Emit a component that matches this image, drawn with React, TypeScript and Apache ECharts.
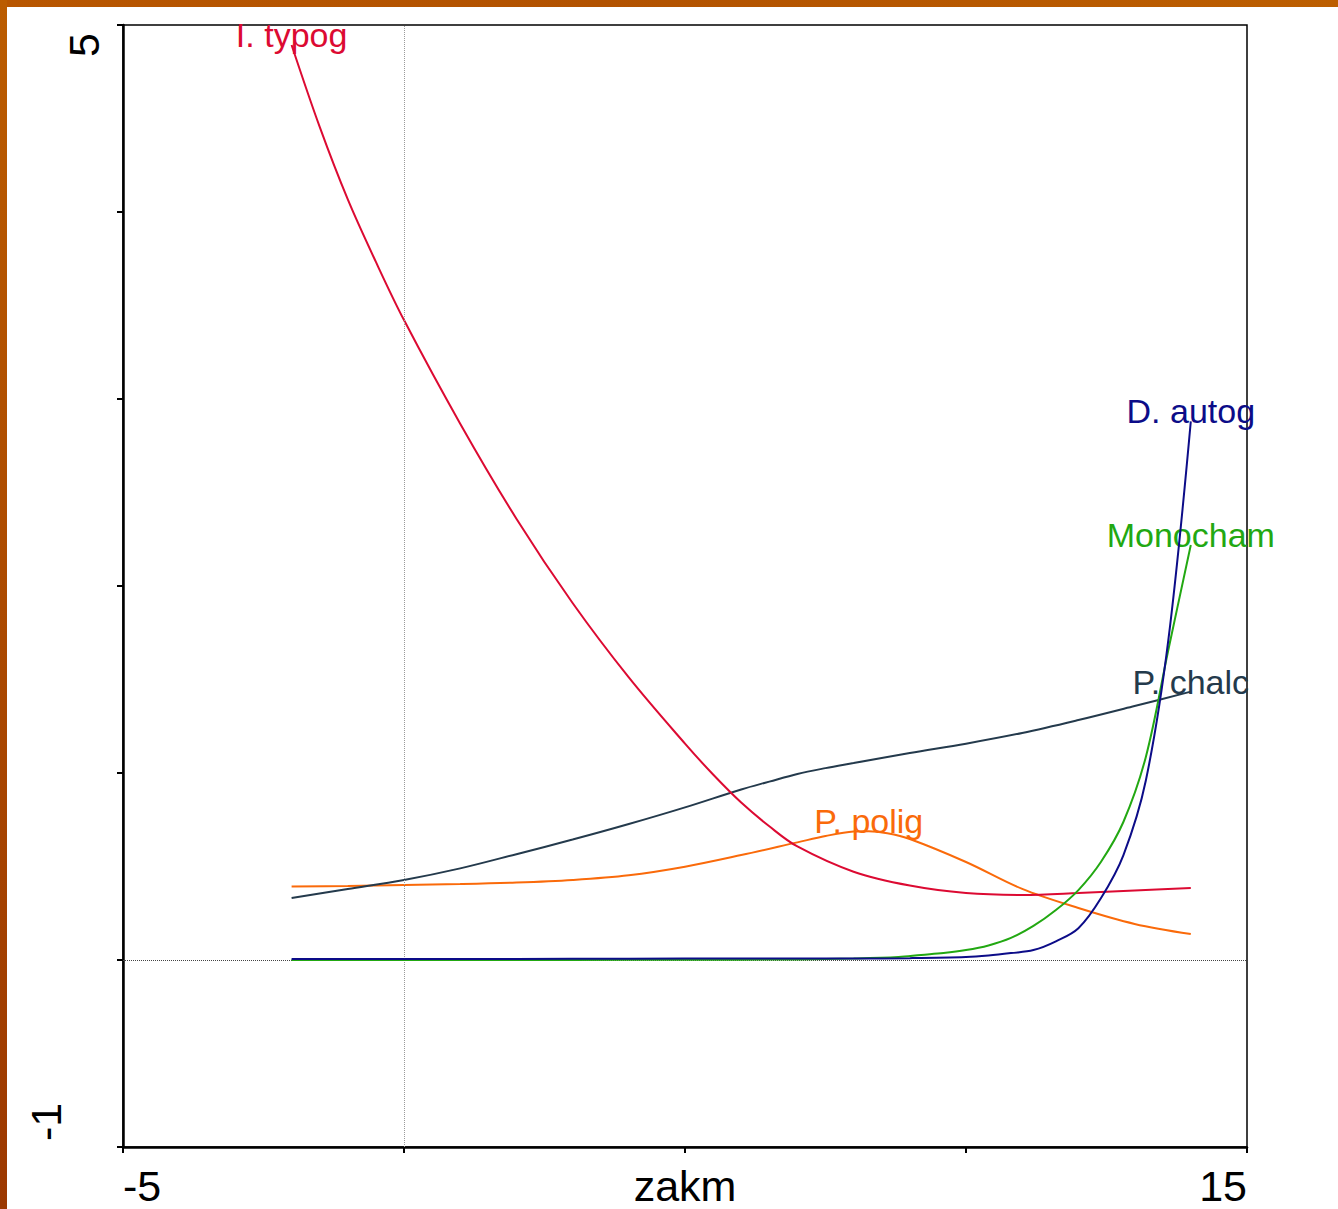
import React, { useEffect, useRef } from 'react';
import * as echarts from 'echarts';

const FONT = '"Liberation Sans", Arial, Helvetica, sans-serif';

// Response curves along the zakm gradient, one x/y pair of arrays per species
const typogX = [-2, -1.5, -1, -0.5, 0, 1, 2, 3, 4, 5, 5.5, 6, 6.5, 7, 8, 9, 10, 11, 12, 13, 14];
const typogY = [4.893, 4.455, 4.067, 3.733, 3.422, 2.868, 2.36, 1.909, 1.511, 1.157, 0.992, 0.842, 0.715, 0.607, 0.472, 0.398, 0.358, 0.348, 0.358, 0.372, 0.385];

const chalcX = [-2, -1, 0, 1, 2, 3, 4, 5, 6, 6.5, 7, 7.5, 8, 9, 10, 11, 12, 13, 14];
const chalcY = [0.332, 0.38, 0.428, 0.49, 0.566, 0.644, 0.727, 0.816, 0.912, 0.954, 0.995, 1.026, 1.053, 1.107, 1.157, 1.214, 1.283, 1.358, 1.435];

const poligX = [-2, -1, 0, 1, 2, 3, 4, 5, 6, 7, 7.5, 8, 8.27, 8.6, 9, 10, 11, 12, 13, 14];
const poligY = [0.393, 0.396, 0.401, 0.406, 0.414, 0.428, 0.453, 0.499, 0.561, 0.629, 0.663, 0.687, 0.689, 0.678, 0.647, 0.524, 0.38, 0.278, 0.193, 0.139];

const monochamX = [-2, 0, 2, 4, 6, 7, 8, 8.8, 9.2, 9.6, 10, 10.4, 10.8, 11.2, 11.6, 12, 12.4, 12.8, 13.2, 13.6, 14];
const monochamY = [0, 0, 0, 0.001, 0.002, 0.003, 0.008, 0.016, 0.027, 0.037, 0.053, 0.078, 0.118, 0.182, 0.267, 0.374, 0.524, 0.738, 1.086, 1.658, 2.219];

const autogX = [-2, 0, 2, 4, 6, 8, 9, 10, 10.4, 10.8, 11.2, 11.6, 12, 12.4, 12.8, 13.2, 13.6, 14];
const autogY = [0.005, 0.006, 0.006, 0.007, 0.008, 0.008, 0.01, 0.016, 0.024, 0.037, 0.053, 0.1, 0.17, 0.33, 0.56, 0.96, 1.71, 2.88];

const xTickLabels = ['-5', '15'];
const yTickLabels = ['-1', '5'];
const xAxisName = 'zakm';

const RED = '#dc0a32';
const SLATE = '#243a4c';
const ORANGE = '#fa6a0a';
const GREEN = '#22a812';
const NAVY = '#0c0c88';

// Line points, with the species name attached above one chosen point
function curve(xs: number[], ys: number[], at: number, name: string, color: string) {
  return xs.map((x, i) =>
    i === at
      ? {
          value: [x, ys[i]],
          label: {
            show: true,
            position: 'top',
            distance: 0,
            offset: [0, 7],
            formatter: name,
            color,
            fontSize: 34,
            fontFamily: FONT,
          },
        }
      : [x, ys[i]]
  );
}

function lineSeries(name: string, color: string, data: any[], z: number) {
  return {
    name,
    type: 'line',
    data,
    z,
    smooth: 0.35,
    showSymbol: true,
    symbol: 'circle',
    symbolSize: 0,
    silent: true,
    lineStyle: { color, width: 2 },
    itemStyle: { color },
    label: { show: false },
  };
}

export default function App() {
  const ref = useRef<HTMLDivElement>(null);

  useEffect(() => {
    if (!ref.current) return;
    const chart = echarts.init(ref.current, undefined, { renderer: 'svg' });

    const option: any = {
      animation: false,
      backgroundColor: '#ffffff',
      textStyle: { fontFamily: FONT },
      grid: {
        left: 123,
        top: 25,
        right: 91,
        bottom: 62,
        containLabel: false,
        outerBoundsMode: 'none',
        show: true,
        borderColor: '#000',
        borderWidth: 1.5,
        backgroundColor: 'transparent',
      },
      xAxis: {
        type: 'value',
        min: -5,
        max: 15,
        interval: 5,
        axisLine: { onZero: false, lineStyle: { color: '#000', width: 2.5 } },
        axisTick: { show: true, length: 6, lineStyle: { color: '#000', width: 2 } },
        splitLine: { show: false },
        axisLabel: {
          showMinLabel: true,
          showMaxLabel: true,
          alignMinLabel: 'left',
          alignMaxLabel: 'right',
          formatter: (v: number) => (xTickLabels.includes(String(v)) ? String(v) : ''),
          fontSize: 43,
          color: '#000',
          margin: 17,
          fontFamily: FONT,
        },
        name: xAxisName,
        nameLocation: 'middle',
        nameGap: 17,
        nameMoveOverlap: false,
        nameTextStyle: { fontSize: 43, color: '#000', fontFamily: FONT, verticalAlign: 'top' },
      },
      yAxis: {
        type: 'value',
        min: -1,
        max: 5,
        interval: 1,
        axisLine: { onZero: false, lineStyle: { color: '#000', width: 2.5 } },
        axisTick: { show: true, length: 6, lineStyle: { color: '#000', width: 2 } },
        splitLine: { show: false },
        axisLabel: { show: false },
      },
      graphic: [
        {
          type: 'rect',
          shape: { x: 0, y: 0, width: 1338, height: 7 },
          style: {
            fill: new echarts.graphic.LinearGradient(0, 0, 1, 0, [
              { offset: 0, color: '#b85600' },
              { offset: 0.45, color: '#b25200' },
              { offset: 1, color: '#bc5e00' },
            ]),
          },
          silent: true,
        },
        {
          type: 'rect',
          shape: { x: 0, y: 0, width: 7, height: 1209 },
          style: {
            fill: new echarts.graphic.LinearGradient(0, 0, 0, 1, [
              { offset: 0, color: '#bb5c00' },
              { offset: 0.5, color: '#ac4a00' },
              { offset: 1, color: '#9c3800' },
            ]),
          },
          silent: true,
        },
        {
          type: 'text',
          x: 84,
          y: 45,
          rotation: Math.PI / 2,
          silent: true,
          style: {
            text: yTickLabels[1],
            x: 0,
            y: 0,
            fill: '#000',
            font: `43px ${FONT}`,
            align: 'center',
            verticalAlign: 'middle',
            textAlign: 'center',
            textVerticalAlign: 'middle',
          },
        },
        {
          type: 'text',
          x: 46,
          y: 1122,
          rotation: Math.PI / 2,
          silent: true,
          style: {
            text: yTickLabels[0],
            x: 0,
            y: 0,
            fill: '#000',
            font: `43px ${FONT}`,
            align: 'center',
            verticalAlign: 'middle',
            textAlign: 'center',
            textVerticalAlign: 'middle',
          },
        },
      ],
      series: [
        {
          type: 'line',
          data: [],
          z: 1,
          silent: true,
          markLine: {
            silent: true,
            symbol: 'none',
            label: { show: false },
            data: [
              { xAxis: 0, lineStyle: { color: '#9a9a9a', type: 'dotted', width: 1 } },
              { yAxis: 0, lineStyle: { color: '#444', type: 'dotted', width: 1 } },
            ],
          },
        },
        lineSeries('P. polig', ORANGE, curve(poligX, poligY, 12, 'P. polig', ORANGE), 2),
        lineSeries('P. chalc', SLATE, curve(chalcX, chalcY, chalcX.length - 1, 'P. chalc', SLATE), 3),
        lineSeries('I. typog', RED, curve(typogX, typogY, 0, 'I. typog', RED), 4),
        lineSeries('Monocham', GREEN, curve(monochamX, monochamY, monochamX.length - 1, 'Monocham', GREEN), 5),
        lineSeries('D. autog', NAVY, curve(autogX, autogY, autogX.length - 1, 'D. autog', NAVY), 6),
      ],
    };

    chart.setOption(option);
    return () => chart.dispose();
  }, []);

  return (
    <div
      ref={ref}
      style={{ position: 'fixed', left: 0, top: 0, width: 1338, height: 1209 }}
    />
  );
}
